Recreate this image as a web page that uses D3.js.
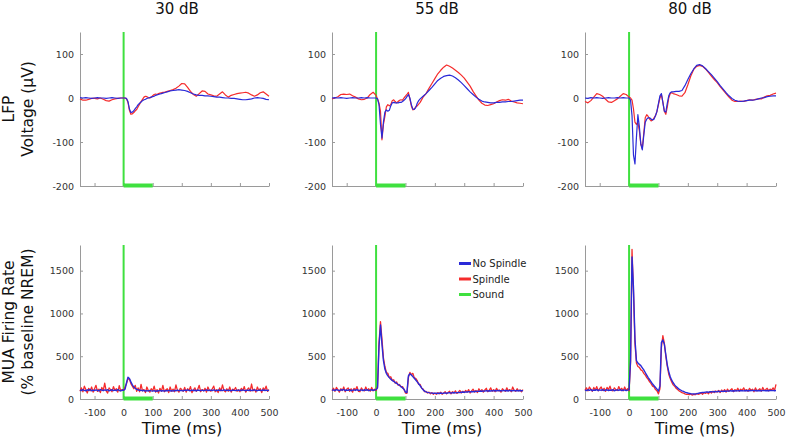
<!DOCTYPE html>
<html><head><meta charset="utf-8">
<script src="https://cdn.jsdelivr.net/npm/d3@7"></script>
<style>body{margin:0;background:#fff;} svg{display:block;font-family:"DejaVu Sans",sans-serif;}</style>
</head><body><svg id="c" width="786" height="441"></svg>
<script>
const conditions = ["30 dB", "55 dB", "80 dB"];
const timeTicks = [-100, 0, 100, 200, 300, 400, 500];
const lfpTicks = [-200, -100, 0, 100];
const muaTicks = [0, 500, 1000, 1500];
const legendLabels = ["No Spindle", "Spindle", "Sound"];
const soundOnOff = [0, 100];

// LFP time axis (ms)
const lfpTime = [-150,-140,-130,-120,-110,-100,-90,-80,-70,-60,-50,-40,-30,-20,-10,
  0,5,10,15,20,25,30,35,40,45,50,55,60,65,70,75,80,85,90,95,100,105,110,115,120,125,130,135,140,145,150,
  160,170,180,190,200,210,220,230,240,250,260,270,280,290,300,310,320,330,340,350,360,370,380,390,400,410,420,430,440,450,460,470,480,490,500];

const lfp30NoSpindle = [1,0,1,0,-1,0,1,0,0,-1,0,1,0,-1,0,
  0,0,-1,-8,-25,-33,-32,-29,-24,-20,-15,-12,-9,-6,-4,-3,-1,0,1,2,3,4,6,7,8,9,10,11,12,13,14,
  16,17,18,19,18,17,15,12,9,7,6,6,5,5,4,3,2,2,1,0,0,-1,-1,-2,-3,-4,-4,-3,-2,0,1,0,-1,-3,-4];
const lfp30Spindle = [-2,-5,-5,-3,-1,-1,-2,0,-3,-6,-7,-4,-2,-1,0,
  0,0,-2,-10,-28,-37,-36,-33,-29,-26,-20,-14,-8,-3,2,4,3,1,0,2,5,8,9,8,10,11,12,13,13,14,15,
  17,19,22,27,33,32,24,15,8,4,10,16,15,9,7,5,4,9,14,7,2,6,8,10,11,12,13,11,7,4,7,12,14,9,4];
const lfp55NoSpindle = [0,1,0,1,0,-1,0,1,0,0,1,0,1,0,0,
  0,-2,-15,-60,-91,-55,-32,-27,-30,-28,-18,-11,-10,-11,-11,-11,-10,-10,-8,-5,-2,3,8,0,-15,-25,-26,-22,-12,-6,-2,
  4,10,17,24,32,40,45,49,51,52,50,46,41,35,28,21,14,8,2,-3,-7,-9,-10,-11,-11,-10,-10,-9,-9,-8,-8,-7,-6,-5,-5];
const lfp55Spindle = [-2,0,3,8,9,8,9,5,2,-2,-4,-3,0,8,13,
  6,-2,-12,-30,-95,-60,-42,-20,-15,-18,-15,-6,-4,-8,-11,-8,-5,-4,-5,0,4,8,13,-2,-18,-27,-25,-20,-18,-14,-10,
  2,10,22,33,44,55,63,70,75,72,68,63,58,52,45,36,27,15,5,-5,-12,-16,-17,-15,-13,-9,-6,-4,-5,-3,-7,-9,-11,-12,-13];
const lfp80NoSpindle = [0,-1,1,0,1,0,-1,0,1,0,0,1,0,1,0,
  0,-5,-40,-130,-150,-90,-38,-65,-105,-118,-85,-55,-48,-45,-45,-48,-50,-48,-40,-30,-12,5,10,-10,-30,-32,-12,5,12,14,14,
  15,15,17,28,42,55,66,74,76,73,67,60,53,45,37,28,20,12,5,-1,-5,-7,-8,-7,-6,-5,-5,-4,-2,0,1,3,4,5,5];
const lfp80Spindle = [-8,-11,-6,2,10,8,4,-3,-9,-10,-6,-2,4,10,8,
  2,0,-5,-25,-55,-60,-55,-75,-105,-115,-80,-45,-38,-42,-48,-52,-50,-45,-40,-30,-15,0,8,-10,-30,-37,-20,0,10,12,10,
  8,5,4,12,30,50,65,72,74,72,66,58,50,42,35,26,18,10,2,-5,-8,-8,-7,-8,-6,-4,-5,-3,-2,-2,2,5,6,9,11];

// MUA time axis (ms), 5 ms bins from -150 to 500
const muaTime = d3.range(-150, 505, 5);

const mua30NoSpindle = [105,98,110,102,95,108,100,112,96,104,99,107,101,94,110,103,97,106,100,109,95,102,108,99,104,97,111,100,96,105,
  102,115,190,255,240,200,165,140,125,112,108,100,104,96,102,92,98,94,100,95,
  92,98,90,96,94,100,93,97,91,99,95,102,94,98,92,100,96,104,97,101,
  98,95,103,99,106,100,97,104,99,102,96,105,100,98,103,97,101,106,99,102,
  104,99,107,101,97,105,100,103,98,106,102,99,104,100,97,105,101,98,104,100,
  103,99,106,101,97,104,100,105,98,102,107,100,97,104,101,99,105,100,103,98,102];
const mua30Spindle = [90,130,85,150,110,70,125,95,140,80,120,160,90,115,75,135,100,185,95,70,130,110,85,145,100,120,80,155,95,110,
  100,140,180,240,230,180,150,120,160,90,130,85,170,95,110,75,140,100,80,120,
  95,150,80,110,70,125,90,160,85,105,120,75,140,90,115,85,165,100,80,125,
  110,90,135,80,120,100,145,75,105,130,90,115,160,85,110,95,125,80,140,100,
  90,120,150,85,110,75,130,95,165,100,85,120,90,140,80,115,105,135,90,110,
  85,125,100,145,80,110,130,90,175,95,115,80,140,100,120,75,130,105,150,90,110];
const mua55NoSpindle = [102,106,99,110,104,97,108,103,112,98,105,101,109,96,104,107,100,111,98,103,106,99,108,102,110,97,104,108,101,105,
  110,130,620,865,640,450,350,300,270,250,232,218,205,195,182,170,158,145,130,115,
  82,76,270,295,280,262,242,222,200,178,155,130,108,92,84,78,74,71,69,68,
  66,68,64,67,70,65,69,72,67,71,74,69,73,76,72,75,78,74,79,81,
  79,83,81,86,83,88,85,90,87,92,89,94,91,95,92,97,94,96,93,98,
  95,99,94,100,96,98,95,101,97,99,94,100,97,96,101,95,99,97,100,96,98];
const mua55Spindle = [95,125,90,135,110,80,120,100,140,85,115,130,90,120,80,125,105,145,90,85,130,105,95,140,100,120,90,135,95,115,
  100,150,660,905,700,480,380,310,300,250,260,215,225,185,200,160,170,140,145,110,
  70,65,250,310,285,300,250,240,215,170,170,125,115,85,90,70,80,60,75,55,
  70,55,75,60,80,55,70,85,60,75,90,60,85,70,95,65,80,100,70,90,
  75,100,80,110,70,95,115,80,100,75,120,90,110,80,105,125,85,100,130,90,
  110,85,125,95,105,80,120,100,90,130,95,110,85,140,100,90,120,95,105,85,110];
const mua80NoSpindle = [104,99,108,101,110,97,105,102,109,98,106,100,111,97,103,108,99,105,101,110,96,104,107,100,109,98,103,106,99,104,
  110,450,1660,1300,700,450,420,405,390,365,340,310,280,250,225,200,175,155,135,115,
  92,150,660,690,640,520,400,320,260,220,190,165,145,130,115,105,95,88,80,75,
  70,66,62,60,58,60,62,66,70,74,78,76,80,82,79,84,86,83,88,85,
  87,90,86,92,89,94,90,95,92,97,93,96,94,98,95,99,96,97,95,99,
  97,100,96,99,98,101,96,100,97,99,95,101,98,97,100,96,99,98,101,97,100];
const mua80Spindle = [100,130,95,140,115,90,135,105,145,95,120,140,100,125,90,135,110,150,100,95,130,110,100,145,105,125,95,140,100,120,
  95,420,1750,1250,650,420,380,370,340,330,300,280,250,230,200,180,150,140,110,95,
  60,120,600,740,650,500,380,290,240,200,165,150,125,110,95,85,75,70,60,55,
  55,50,60,45,55,50,65,55,60,70,55,75,65,80,60,85,70,90,75,95,
  80,100,75,105,85,110,80,115,90,105,120,85,110,95,125,90,115,100,130,95,
  110,90,125,100,115,85,130,95,105,120,90,135,100,110,125,95,115,105,130,100,170];

const lfpNoSpindle = [lfp30NoSpindle, lfp55NoSpindle, lfp80NoSpindle];
const lfpSpindle = [lfp30Spindle, lfp55Spindle, lfp80Spindle];
const muaNoSpindle = [mua30NoSpindle, mua55NoSpindle, mua80NoSpindle];
const muaSpindle = [mua30Spindle, mua55Spindle, mua80Spindle];

// ---------- layout / style ----------
const BLUE = "#2a2ad8", RED = "#f52c2c", GREEN = "#3fe03f";
const AXIS = "#9a9a9a", TXT = "#333";
const panelX = [[80, 269], [332, 523], [585, 776]];
const titleX = [177, 437, 690];
const topY = [186, 32], botY = [399, 245];

const svg = d3.select("#c");

function drawPanel(i, row) {
  const isTop = row === 0;
  const x = d3.scaleLinear().domain([-150, 500]).range(panelX[i]);
  const y = isTop ? d3.scaleLinear().domain([-200, 150]).range(topY)
                  : d3.scaleLinear().domain([0, 1800]).range(botY);
  const g = svg.append("g");

  const fmt = d => String(d);
  const xa = d3.axisBottom(x).tickValues(timeTicks).tickSizeInner(-3).tickSizeOuter(0).tickPadding(10.5)
    .tickFormat(isTop ? () => "" : fmt);
  const gx = g.append("g").attr("transform", `translate(0,${y.range()[0]})`).call(xa);
  const ya = d3.axisLeft(y).tickValues(isTop ? lfpTicks : muaTicks).tickSizeInner(-3).tickSizeOuter(0).tickPadding(6)
    .tickFormat(fmt);
  const gy = g.append("g").attr("transform", `translate(${panelX[i][0]},0)`).call(ya);
  [gx, gy].forEach(a => {
    a.select(".domain").attr("stroke", AXIS);
    a.selectAll(".tick line").attr("stroke", AXIS);
    a.selectAll("text").attr("fill", TXT).style("font-size", "9.5px").style("font-family", "DejaVu Sans");
  });

  // sound marker
  g.append("line").attr("x1", x(0)).attr("x2", x(0)).attr("y1", y.range()[0]).attr("y2", y.range()[1])
    .attr("stroke", GREEN).attr("stroke-width", 2);
  g.append("line").attr("x1", x(soundOnOff[0])).attr("x2", x(soundOnOff[1])).attr("y1", y.range()[0] - 0.5).attr("y2", y.range()[0] - 0.5)
    .attr("stroke", GREEN).attr("stroke-width", 4);

  const times = isTop ? lfpTime : muaTime;
  const line = d3.line().x((d, k) => x(times[k])).y(d => y(d));
  const sp = isTop ? lfpSpindle[i] : muaSpindle[i];
  const ns = isTop ? lfpNoSpindle[i] : muaNoSpindle[i];
  g.append("path").attr("d", line(sp)).attr("fill", "none").attr("stroke", RED).attr("stroke-width", isTop ? 1.2 : 1.3).attr("stroke-linejoin", "round");
  g.append("path").attr("d", line(ns)).attr("fill", "none").attr("stroke", BLUE).attr("stroke-width", isTop ? 1.2 : 1.4).attr("stroke-linejoin", "round");

  if (isTop) {
    g.append("text").attr("x", titleX[i]).attr("y", 14).attr("text-anchor", "middle")
      .attr("fill", "#111").style("font-size", "15px").text(conditions[i]);
  } else {
    g.append("text").attr("x", titleX[i] + 5).attr("y", 434).attr("text-anchor", "middle")
      .attr("fill", "#111").style("font-size", "16px").text("Time (ms)");
  }
}

for (let i = 0; i < 3; i++) { drawPanel(i, 0); drawPanel(i, 1); }

// y-axis labels
function ylab(lines, cy) {
  const t = svg.append("text").attr("transform", `translate(0,${cy}) rotate(-90)`)
    .attr("text-anchor", "middle").attr("fill", "#111").style("font-size", "15.5px");
  lines.forEach((s, k) => t.append("tspan").attr("x", 0).attr("y", 14 + k * 19).text(s));
}
ylab(["LFP", "Voltage (µV)"], 109);
ylab(["MUA Firing Rate", "(% baseline NREM)"], 322);

// legend
const legColors = [BLUE, RED, GREEN];
const lg = svg.append("g");
legendLabels.forEach((s, k) => {
  const cy = 263.5 + k * 15.5;
  lg.append("line").attr("x1", 459).attr("x2", 471).attr("y1", cy).attr("y2", cy).attr("stroke", legColors[k]).attr("stroke-width", 3);
  lg.append("text").attr("x", 472.5).attr("y", cy + 3.6).attr("fill", "#222").style("font-size", "10px").text(s);
});
</script></body></html>
